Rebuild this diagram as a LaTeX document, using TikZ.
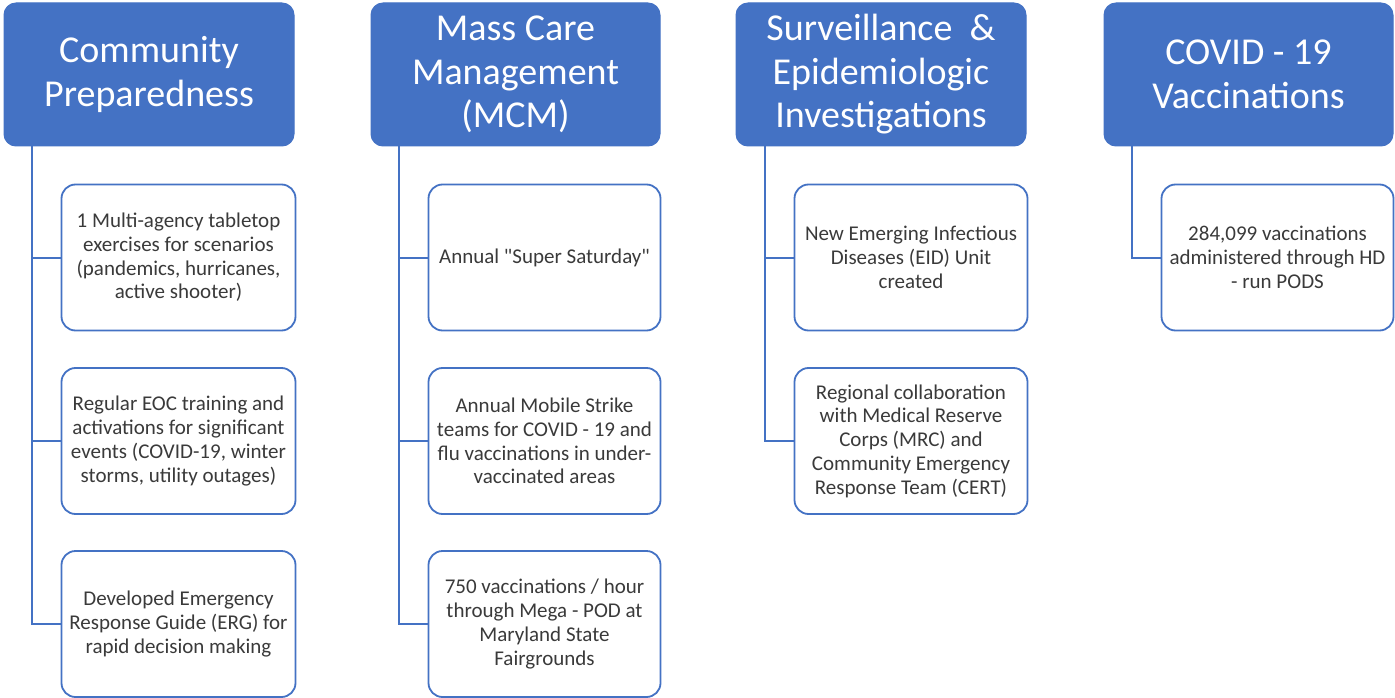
\documentclass[tikz,border=0pt]{standalone}
\usepackage{fontspec}
\setmainfont{Carlito}
\definecolor{hdblue}{HTML}{4472C4}
\definecolor{txtgray}{HTML}{3A3A3A}
\begin{document}
\begin{tikzpicture}[x=1pt,y=-1pt,
  header/.style={draw=hdblue,fill=hdblue,rounded corners=12pt,line width=1pt,
    minimum height=143pt,text=white,align=center,inner sep=0pt,
    font=\fontsize{38}{43.5}\selectfont},
  item/.style={draw=hdblue,fill=white,rounded corners=14pt,line width=1.8pt,
    minimum height=146pt,text=txtgray,align=center,inner sep=0pt,
    font=\fontsize{21}{23.7}\selectfont},
  link/.style={draw=hdblue,line width=2pt}]
\useasboundingbox (0,0) rectangle (1395,698);
% headers
\node[header,minimum width=290pt] (h1) at (149,74.5) {Community\\Preparedness};
\node[header,minimum width=289pt] (h2) at (515.5,74.5) {Mass Care\\Management\\(MCM)};
\node[header,minimum width=290pt] (h3) at (881,74.5) {Surveillance \ \&\\Epidemiologic\\Investigations};
\node[header,minimum width=289pt] (h4) at (1248.5,74.5) {COVID - 19\\Vaccinations};
% column 1
\node[item,minimum width=234pt] (c11) at (178.5,257.5) {1 Multi-agency tabletop\\exercises for scenarios\\(pandemics, hurricanes,\\active shooter)};
\node[item,minimum width=234pt] (c12) at (178.5,441) {Regular EOC training and\\activations for significant\\events (COVID-19, winter\\storms, utility outages)};
\node[item,minimum width=234pt] (c13) at (178.5,624) {Developed Emergency\\Response Guide (ERG) for\\rapid decision making};
% column 2
\node[item,minimum width=232pt] (c21) at (544.5,257.5) {Annual \textquotedbl Super Saturday\textquotedbl};
\node[item,minimum width=232pt] (c22) at (544.5,441) {Annual Mobile Strike\\teams for COVID - 19 and\\flu vaccinations in under-\\vaccinated areas};
\node[item,minimum width=232pt] (c23) at (544.5,624) {750 vaccinations / hour\\through Mega - POD at\\Maryland State\\Fairgrounds};
% column 3
\node[item,minimum width=233pt] (c31) at (911,257.5) {New Emerging Infectious\\Diseases (EID) Unit\\created};
\node[item,minimum width=233pt] (c32) at (911,441) {Regional collaboration\\with Medical Reserve\\Corps (MRC) and\\Community Emergency\\Response Team (CERT)};
% column 4
\node[item,minimum width=232pt] (c41) at (1277.5,257.5) {284,099 vaccinations\\administered through HD\\- run PODS};
% connectors
\draw[link] ([xshift=28pt]h1.south west) |- (c11.west);
\draw[link] ([xshift=28pt]h1.south west) |- (c12.west);
\draw[link] ([xshift=28pt]h1.south west) |- (c13.west);
\draw[link] ([xshift=28pt]h2.south west) |- (c21.west);
\draw[link] ([xshift=28pt]h2.south west) |- (c22.west);
\draw[link] ([xshift=28pt]h2.south west) |- (c23.west);
\draw[link] ([xshift=29pt]h3.south west) |- (c31.west);
\draw[link] ([xshift=29pt]h3.south west) |- (c32.west);
\draw[link] ([xshift=28pt]h4.south west) |- (c41.west);
\end{tikzpicture}
\end{document}
